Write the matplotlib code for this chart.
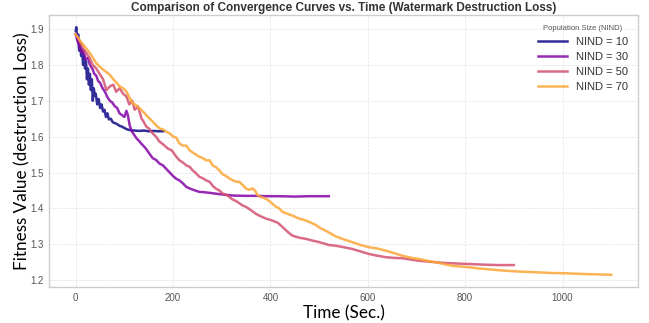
import numpy as np
import matplotlib
matplotlib.use("Agg")
import matplotlib.pyplot as plt

# values
t10 = [0, 1, 3, 5, 7, 9, 11, 13, 15, 17, 19, 21, 23, 25, 27, 29, 31, 33, 35, 37,
       39, 41, 44, 47, 50, 53, 56, 59, 62, 65, 68, 72, 76, 80, 85, 90, 95, 100, 106, 112,
       120, 130, 140, 150, 160, 170, 180]
v10 = [1.895, 1.905, 1.87, 1.885, 1.84, 1.86, 1.825, 1.845, 1.80, 1.825,
       1.79, 1.81, 1.76, 1.79, 1.745, 1.775, 1.73, 1.76, 1.70, 1.735,
       1.715, 1.72, 1.69, 1.705, 1.68, 1.69, 1.67, 1.675, 1.655, 1.665,
       1.648, 1.65, 1.64, 1.638, 1.635, 1.63, 1.628, 1.624, 1.62, 1.618,
       1.617, 1.616, 1.617, 1.615, 1.616, 1.615, 1.615]

t30 = [0, 4, 8, 12, 16, 20, 25, 29, 34, 38, 42, 46, 50, 55, 60, 65, 70, 75, 80, 85,
       90, 95, 100, 104, 107, 111, 115, 120, 125, 130, 135, 140, 145, 150, 158, 165, 172, 179, 186, 193,
       200, 207, 213, 220, 227, 235, 245, 254, 265, 277, 288, 300, 321, 345, 370, 391, 420, 450, 480, 520]
v30 = [1.885, 1.865, 1.85, 1.835, 1.84, 1.815, 1.82, 1.80, 1.79, 1.775,
       1.77, 1.755, 1.75, 1.735, 1.725, 1.71, 1.70, 1.695, 1.685, 1.68,
       1.665, 1.66, 1.655, 1.672, 1.66, 1.63, 1.615, 1.605, 1.595, 1.588,
       1.58, 1.573, 1.565, 1.555, 1.54, 1.535, 1.525, 1.52, 1.51, 1.50,
       1.49, 1.482, 1.478, 1.47, 1.46, 1.455, 1.45, 1.446, 1.445, 1.443,
       1.441, 1.439, 1.436, 1.435, 1.435, 1.434, 1.434, 1.433, 1.434, 1.434]

t50 = [0, 5, 10, 15, 22, 28, 35, 42, 49, 56, 63, 70, 77, 83, 90, 97, 104, 110, 116, 121,
       128, 135, 140, 145, 151, 158, 165, 172, 180, 189, 197, 206, 213, 220, 227, 234, 240, 247, 254, 261,
       268, 275, 282, 288, 295, 302, 310, 322, 330, 343, 350, 360, 370, 377, 390, 404, 415, 425, 435, 445,
       460, 473, 487, 500, 520, 534, 550, 568, 585, 602, 620, 637, 655, 671, 690, 705, 722, 739, 756, 773,
       790, 807, 825, 842, 870, 900]
v50 = [1.885, 1.875, 1.86, 1.845, 1.833, 1.82, 1.80, 1.79, 1.775, 1.76,
       1.73, 1.74, 1.745, 1.725, 1.735, 1.72, 1.712, 1.69, 1.70, 1.675,
       1.684, 1.651, 1.64, 1.628, 1.622, 1.609, 1.60, 1.586, 1.578, 1.567,
       1.562, 1.545, 1.534, 1.528, 1.52, 1.516, 1.506, 1.498, 1.488, 1.484,
       1.478, 1.474, 1.462, 1.455, 1.45, 1.441, 1.438, 1.425, 1.42, 1.408,
       1.404, 1.395, 1.385, 1.38, 1.372, 1.366, 1.36, 1.348, 1.335, 1.324,
       1.318, 1.315, 1.31, 1.306, 1.298, 1.296, 1.292, 1.287, 1.28, 1.273,
       1.268, 1.264, 1.262, 1.261, 1.257, 1.254, 1.252, 1.25, 1.248, 1.247,
       1.246, 1.245, 1.244, 1.243, 1.242, 1.242]

t70 = [0, 5, 10, 15, 22, 29, 35, 42, 49, 56, 63, 70, 77, 84, 90, 97, 104, 110, 117, 124,
       131, 138, 145, 152, 158, 165, 172, 179, 186, 193, 200, 206, 213, 220, 227, 234, 240, 247, 254, 261,
       268, 275, 281, 288, 295, 302, 309, 316, 323, 330, 336, 343, 350, 357, 363, 368, 374, 380, 391, 398,
       404, 411, 418, 425, 435, 445, 458, 473, 483, 493, 500, 510, 520, 534, 550, 568, 585, 602, 620, 637,
       655, 671, 690, 705, 722, 739, 756, 773, 790, 807, 825, 842, 875, 910, 945, 978, 1010, 1046, 1075, 1100]
v70 = [1.885, 1.875, 1.865, 1.857, 1.845, 1.833, 1.82, 1.805, 1.795, 1.787,
       1.78, 1.772, 1.76, 1.75, 1.74, 1.735, 1.726, 1.71, 1.693, 1.688,
       1.679, 1.67, 1.66, 1.65, 1.642, 1.632, 1.623, 1.62, 1.614, 1.609,
       1.60, 1.598, 1.581, 1.575, 1.575, 1.562, 1.556, 1.55, 1.544, 1.54,
       1.534, 1.534, 1.52, 1.515, 1.506, 1.495, 1.49, 1.483, 1.478, 1.474,
       1.474, 1.465, 1.455, 1.452, 1.456, 1.45, 1.436, 1.432, 1.427, 1.42,
       1.413, 1.405, 1.40, 1.39, 1.385, 1.38, 1.372, 1.366, 1.36, 1.354,
       1.347, 1.34, 1.333, 1.322, 1.314, 1.306, 1.298, 1.292, 1.288, 1.282,
       1.275, 1.268, 1.262, 1.259, 1.254, 1.25, 1.245, 1.24, 1.238, 1.236,
       1.233, 1.231, 1.227, 1.224, 1.222, 1.22, 1.219, 1.217, 1.216, 1.215]

labels = ["NIND = 10", "NIND = 30", "NIND = 50", "NIND = 70"]
series = [(t10, v10), (t30, v30), (t50, v50), (t70, v70)]
colors = plt.cm.plasma(np.linspace(0, 0.8, 4))

plt.rcParams['font.family'] = ['Liberation Sans', 'DejaVu Sans']

fig = plt.figure(figsize=(6.49, 3.23), dpi=100)
ax = fig.add_axes([0.0755, 0.111, 0.9075, 0.843])

for (t, v), c, lab in zip(series, colors, labels):
    ax.plot(t, v, color=c, lw=1.8, alpha=0.85, label=lab)

ax.set_title("Comparison of Convergence Curves vs. Time (Watermark Destruction Loss)",
             fontsize=8.5, fontweight="bold", color="#333333", pad=3)
ax.set_xlabel("Time (Sec.)", fontsize=12.3, family="Lato", labelpad=2)
ax.set_ylabel("Fitness Value (destruction Loss)", fontsize=12.3, family="Lato", labelpad=0)

ax.set_xticks([0, 200, 400, 600, 800, 1000])
ax.set_yticks([1.2, 1.3, 1.4, 1.5, 1.6, 1.7, 1.8, 1.9])
ax.tick_params(labelsize=7, labelcolor="#555555", length=0, pad=4)
ax.grid(True, ls="--", lw=0.5, color="#e2e2e2")
for s in ax.spines.values():
    s.set_color("#cccccc")
    s.set_linewidth(1.0)

leg = ax.legend(title="Population Size (NIND)", fontsize=8, title_fontsize=5.5,
                loc="upper right", frameon=False, handlelength=2.6, labelspacing=0.45)
for txt in leg.get_texts():
    txt.set_color("#333333")
leg.get_title().set_color("#555555")

fig.savefig("out.png", dpi=100)
